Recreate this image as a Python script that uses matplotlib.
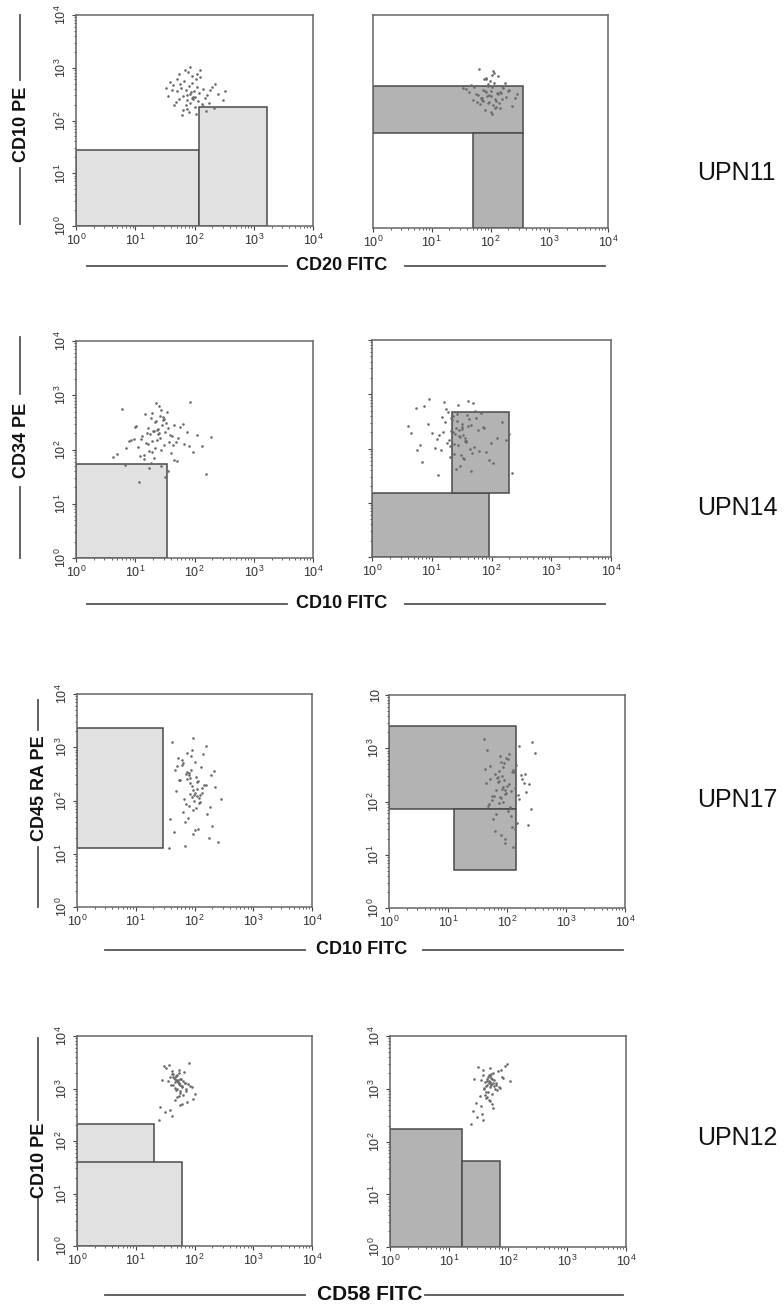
import matplotlib
matplotlib.use('Agg')
import matplotlib.pyplot as plt
import numpy as np
from matplotlib.lines import Line2D
from matplotlib.ticker import NullFormatter

plt.rcParams['font.family'] = ['Liberation Sans', 'DejaVu Sans']
plt.rcParams['mathtext.fontset'] = 'custom'
plt.rcParams['mathtext.rm'] = 'Liberation Sans'
plt.rcParams['mathtext.it'] = 'Liberation Sans:italic'
plt.rcParams['mathtext.bf'] = 'Liberation Sans:bold'

# ---- data -------------------------------------------------------------
patients = ['UPN11', 'UPN14', 'UPN17', 'UPN12']
x_labels = ['CD20 FITC', 'CD10 FITC', 'CD10 FITC', 'CD58 FITC']
y_labels = ['CD10 PE', 'CD34 PE', 'CD45 RA PE', 'CD10 PE']

decades = [1, 10, 100, 1000, 10000]
decade_labels = ['$10^{0}$', '$10^{1}$', '$10^{2}$', '$10^{3}$', '$10^{4}$']

# gates: (x0, x1, y0, y1) in fluorescence units
gates_upn11_a = [(1, 120, 1, 28), (120, 1660, 1, 180)]
gates_upn11_b = [(1, 357, 60, 465), (50, 357, 1, 60)]
gates_upn14_a = [(1, 34, 1, 54)]
gates_upn14_b = [(1, 91, 1, 15), (22, 195, 15, 470)]
gates_upn17_a = [(1, 29, 13, 2300)]
gates_upn17_b = [(1, 141, 72, 2600), (12.6, 141, 5.2, 72)]
gates_upn12_a = [(1, 20.5, 38, 210), (1, 61, 1, 40)]
gates_upn12_b = [(1, 16.6, 1, 173), (16.6, 73, 1, 43)]

# events, log10 of fluorescence
upn11_a_x = [1.92, 1.85, 2.01, 1.78, 1.96, 2.08, 1.88, 1.70, 2.15, 1.93, 1.81, 2.03, 1.99, 1.74, 2.21,
             1.90, 1.86, 2.06, 1.95, 1.62, 2.30, 1.83, 2.12, 1.97, 1.76, 2.00, 1.89, 2.18, 1.68, 1.94,
             2.09, 1.80, 2.25, 1.87, 1.58, 2.04, 1.91, 2.40, 1.73, 1.98, 2.14, 1.84, 1.55, 2.02, 2.35,
             1.66, 1.93, 2.27, 1.79, 2.10, 1.52, 2.48, 1.88, 2.05, 1.71, 2.19, 1.96, 1.64, 2.33, 2.52]
upn11_a_y = [2.50, 2.58, 2.44, 2.62, 2.71, 2.52, 2.39, 2.55, 2.60, 2.33, 2.47, 2.78, 2.56, 2.41, 2.49,
             2.66, 2.29, 2.37, 2.85, 2.58, 2.63, 2.74, 2.31, 2.45, 2.69, 2.25, 2.92, 2.43, 2.36, 2.54,
             2.82, 2.20, 2.34, 2.48, 2.73, 2.64, 2.16, 2.51, 2.88, 2.40, 2.27, 2.95, 2.46, 2.12, 2.70,
             2.30, 3.02, 2.57, 2.10, 2.96, 2.61, 2.38, 2.22, 2.89, 2.78, 2.18, 2.42, 2.68, 2.24, 2.55]
upn11_b_x = [2.00, 1.93, 2.07, 1.88, 2.12, 1.97, 2.03, 1.84, 2.18, 1.95, 2.09, 1.90, 2.05, 1.79, 2.22,
             1.99, 1.86, 2.14, 2.01, 1.75, 2.27, 1.92, 2.10, 1.96, 1.70, 2.06, 2.16, 1.82, 2.02, 1.94,
             2.31, 1.77, 2.08, 1.89, 2.20, 1.64, 2.04, 1.98, 2.36, 1.72, 1.91, 2.13, 1.85, 2.25, 1.58,
             2.00, 2.11, 1.81, 2.41, 1.95, 1.67, 2.17, 2.06, 1.87, 2.29, 1.53, 2.03, 1.93, 2.19, 2.45]
upn11_b_y = [2.48, 2.55, 2.42, 2.60, 2.51, 2.36, 2.64, 2.45, 2.53, 2.70, 2.39, 2.57, 2.31, 2.49, 2.62,
             2.76, 2.44, 2.34, 2.58, 2.52, 2.46, 2.82, 2.28, 2.67, 2.40, 2.73, 2.55, 2.33, 2.88, 2.47,
             2.59, 2.37, 2.25, 2.79, 2.43, 2.56, 2.94, 2.50, 2.30, 2.65, 2.21, 2.85, 2.41, 2.72, 2.61,
             2.18, 2.54, 2.98, 2.44, 2.35, 2.69, 2.26, 2.91, 2.38, 2.57, 2.63, 2.15, 2.80, 2.66, 2.52]
upn14_a_x = [1.37, 1.25, 1.48, 1.30, 1.42, 1.18, 1.55, 1.33, 1.40, 1.10, 1.62, 1.28, 1.45, 1.21, 1.50,
             1.35, 1.05, 1.68, 1.39, 1.15, 1.58, 1.27, 1.44, 0.98, 1.75, 1.32, 1.52, 1.12, 1.41, 1.23,
             1.83, 1.36, 0.90, 1.65, 1.47, 1.19, 1.29, 1.60, 1.02, 1.90, 1.38, 1.26, 1.53, 0.85, 1.72,
             1.34, 1.08, 1.46, 1.97, 1.22, 1.57, 0.78, 1.43, 1.31, 1.80, 1.14, 1.63, 1.40, 0.70, 2.05,
             1.24, 1.49, 1.00, 1.70, 1.35, 2.12, 0.93, 1.56, 1.17, 1.87, 0.62, 1.44, 2.20, 1.28, 1.66,
             0.82, 1.92, 1.51, 2.28, 1.06]
upn14_a_y = [2.17, 2.28, 2.08, 2.35, 2.22, 2.12, 2.40, 2.02, 2.30, 2.19, 2.25, 1.95, 2.45, 2.10, 2.33,
             2.52, 2.05, 2.14, 2.38, 1.90, 2.27, 2.58, 2.00, 2.20, 2.42, 1.85, 2.48, 2.24, 2.62, 1.98,
             2.11, 2.36, 2.16, 1.80, 2.55, 2.31, 2.67, 1.93, 2.44, 2.07, 2.29, 1.75, 2.70, 2.03, 2.21,
             2.50, 1.88, 2.60, 1.96, 2.39, 2.13, 2.75, 1.70, 2.34, 2.47, 1.82, 2.09, 2.80, 1.92, 2.26,
             1.65, 2.57, 2.41, 1.78, 2.85, 2.06, 2.18, 1.60, 2.65, 2.32, 1.87, 2.72, 1.55, 2.15, 2.46,
             1.72, 2.88, 1.50, 2.23, 1.40]
upn14_b_x = [1.47, 1.36, 1.58, 1.41, 1.52, 1.29, 1.65, 1.44, 1.33, 1.55, 1.22, 1.71, 1.39, 1.50, 1.26,
             1.62, 1.46, 1.15, 1.77, 1.35, 1.56, 1.19, 1.68, 1.43, 1.08, 1.82, 1.31, 1.60, 1.49, 1.00,
             1.74, 1.38, 1.24, 1.88, 1.53, 0.94, 1.64, 1.42, 1.12, 1.95, 1.34, 1.57, 0.87, 1.79, 1.45,
             1.27, 2.02, 1.51, 0.80, 1.69, 1.37, 1.17, 2.10, 1.48, 0.73, 1.85, 1.30, 1.61, 1.05, 2.17,
             1.40, 0.66, 1.73, 1.54, 0.96, 2.24, 1.32, 1.66, 0.60, 1.91, 1.44, 1.10, 2.30, 1.59, 0.84,
             1.99, 1.21, 2.35, 1.50, 0.76]
upn14_b_y = [2.21, 2.30, 2.12, 2.38, 2.25, 2.16, 2.44, 2.06, 2.33, 2.19, 2.48, 2.02, 2.27, 2.40, 2.10,
             2.54, 2.23, 1.97, 2.35, 2.60, 2.14, 2.31, 1.92, 2.50, 2.18, 2.66, 2.04, 2.42, 1.88, 2.28,
             2.57, 2.09, 2.72, 2.37, 1.83, 2.46, 2.00, 2.63, 2.24, 1.78, 2.53, 2.13, 2.78, 1.95, 2.34,
             2.68, 1.73, 2.45, 2.07, 2.83, 1.90, 2.58, 2.20, 1.68, 2.75, 2.39, 1.85, 2.88, 2.01, 2.49,
             1.63, 2.29, 2.70, 1.80, 2.92, 2.15, 2.56, 1.58, 2.41, 1.93, 2.81, 1.52, 2.26, 2.62, 1.75,
             2.11, 2.86, 1.55, 2.36, 1.98]
upn17_a_x = [1.98, 1.92, 2.04, 1.88, 2.01, 1.95, 2.09, 1.85, 1.99, 2.06, 1.90, 2.13, 1.94, 1.82, 2.02,
             1.97, 2.17, 1.79, 1.93, 2.08, 1.87, 2.00, 2.22, 1.76, 1.96, 2.11, 1.89, 2.04, 1.72, 2.26,
             1.91, 1.99, 2.15, 1.84, 2.05, 1.69, 1.95, 2.30, 1.81, 2.10, 1.93, 2.01, 1.66, 2.19, 1.86,
             2.35, 1.97, 1.78, 2.07, 1.62, 2.24, 1.90, 2.03, 1.74, 2.40, 1.88, 2.12, 1.59, 1.98, 2.28,
             1.83, 2.45, 1.70, 2.06, 1.94, 1.57, 2.20, 1.80, 2.33, 1.65]
upn17_a_y = [2.20, 2.32, 2.08, 2.41, 2.15, 2.27, 1.98, 2.50, 2.11, 2.36, 1.90, 2.24, 2.58, 2.03, 2.45,
             1.82, 2.30, 2.66, 2.13, 1.95, 2.54, 2.72, 1.75, 2.38, 2.06, 2.62, 1.68, 2.22, 2.80, 1.88,
             2.47, 2.00, 2.87, 1.60, 2.34, 2.18, 2.95, 1.52, 2.70, 2.10, 2.43, 1.44, 2.58, 3.02, 1.93,
             2.26, 1.37, 2.76, 2.05, 3.10, 1.30, 2.52, 1.85, 2.39, 1.22, 2.90, 2.14, 1.65, 3.18, 2.48,
             1.15, 2.02, 2.64, 1.47, 2.83, 1.10, 2.29, 1.78, 2.56, 1.40]
upn17_b_x = [1.93, 1.87, 1.99, 1.83, 1.96, 2.03, 1.90, 1.80, 2.07, 1.95, 1.86, 2.00, 2.11, 1.78, 1.92,
             2.05, 1.84, 2.15, 1.97, 1.75, 2.09, 1.89, 2.01, 1.72, 2.19, 1.94, 1.81, 2.13, 1.98, 1.69,
             2.24, 1.88, 2.04, 1.77, 2.28, 1.91, 1.66, 2.17, 1.95, 2.33, 1.85, 2.08, 1.63, 2.21, 1.93,
             2.38, 1.79, 2.02, 1.74, 2.43, 1.90, 2.12, 1.68, 2.26, 1.97, 2.48, 1.82, 2.06, 1.61, 2.31,
             1.96, 2.20, 1.71, 2.36, 1.88, 2.10, 1.65, 2.41, 1.86, 2.14]
upn17_b_y = [2.27, 2.38, 2.16, 2.45, 2.21, 2.33, 2.06, 2.52, 2.19, 2.40, 1.98, 2.30, 2.60, 2.10, 2.48,
             1.90, 2.36, 2.68, 2.14, 2.02, 2.56, 2.75, 1.83, 2.42, 2.12, 2.64, 1.76, 2.25, 2.82, 1.95,
             2.50, 2.08, 2.89, 1.68, 2.35, 2.24, 2.96, 1.60, 2.72, 2.17, 2.46, 1.52, 2.61, 3.04, 1.99,
             2.32, 1.45, 2.79, 2.11, 3.12, 1.38, 2.55, 1.92, 2.43, 1.30, 2.92, 2.22, 1.73, 3.18, 2.51,
             1.22, 2.05, 2.67, 1.55, 2.86, 1.15, 2.34, 1.86, 2.58, 1.48]
upn12_a_x = [1.72, 1.68, 1.76, 1.65, 1.74, 1.70, 1.79, 1.63, 1.73, 1.77, 1.67, 1.81, 1.71, 1.60, 1.75,
             1.69, 1.84, 1.64, 1.78, 1.72, 1.58, 1.86, 1.66, 1.74, 1.70, 1.89, 1.61, 1.76, 1.68, 1.92,
             1.55, 1.73, 1.80, 1.66, 1.95, 1.52, 1.71, 1.83, 1.62, 1.98, 1.48, 1.75, 1.69, 1.87, 1.57,
             2.01, 1.45, 1.78, 1.64, 1.90, 1.42, 1.73, 1.82, 1.59, 1.67, 1.50, 1.85, 1.61, 1.76, 1.40]
upn12_a_y = [3.12, 3.17, 3.07, 3.20, 3.10, 3.15, 3.04, 3.22, 3.09, 3.18, 3.01, 3.14, 3.25, 3.06, 3.19,
             2.98, 3.11, 3.28, 3.03, 3.16, 3.21, 2.95, 3.13, 3.30, 3.00, 3.08, 3.33, 2.92, 3.24, 3.05,
             3.14, 3.36, 2.88, 3.19, 3.02, 3.39, 2.84, 3.10, 3.27, 2.80, 3.42, 2.96, 3.23, 2.75, 3.45,
             2.90, 3.16, 2.70, 3.07, 3.48, 2.65, 2.86, 3.31, 2.60, 2.78, 2.55, 2.99, 2.48, 2.68, 2.40]
upn12_b_x = [1.69, 1.65, 1.73, 1.62, 1.71, 1.67, 1.76, 1.60, 1.70, 1.74, 1.64, 1.78, 1.68, 1.57, 1.72,
             1.66, 1.81, 1.61, 1.75, 1.69, 1.55, 1.83, 1.63, 1.71, 1.67, 1.86, 1.58, 1.73, 1.65, 1.89,
             1.52, 1.70, 1.77, 1.63, 1.92, 1.49, 1.68, 1.80, 1.59, 1.95, 1.46, 1.72, 1.66, 1.84, 1.54,
             1.99, 1.43, 1.75, 1.61, 1.88, 1.40, 1.70, 1.79, 1.56, 1.64, 1.47, 2.03, 1.58, 1.73, 1.38]
upn12_b_y = [3.13, 3.08, 3.18, 3.05, 3.21, 3.11, 3.16, 3.02, 3.24, 3.10, 3.19, 3.00, 3.14, 3.27, 3.07,
             3.22, 2.97, 3.12, 3.30, 3.04, 3.17, 3.33, 2.94, 3.09, 3.26, 3.01, 3.36, 2.90, 3.15, 3.23,
             2.86, 3.39, 3.06, 2.82, 3.20, 3.42, 2.78, 3.11, 2.99, 3.44, 2.73, 3.28, 2.93, 3.03, 2.68,
             3.46, 3.18, 2.63, 2.89, 3.35, 2.58, 2.76, 3.08, 2.52, 2.85, 2.46, 3.14, 2.40, 2.71, 2.33]

# ---- layout (pixels) --------------------------------------------------
W, H = 784, 1306
fig = plt.figure(figsize=(W / 100, H / 100), dpi=100)


def box(x0, y0, x1, y1):
    return [x0 / W, 1 - y1 / H, (x1 - x0) / W, (y1 - y0) / H]


def seg(xs, ys):
    fig.add_artist(Line2D([x / W for x in xs], [1 - y / H for y in ys],
                          color='#555555', lw=1.3))


def dot_plot(ax, ex, ey, gates, face, yticks='labels', top_label=None):
    ax.set_xscale('log')
    ax.set_yscale('log')
    for x0, x1, y0, y1 in gates:
        ax.fill([x0, x1, x1, x0], [y0, y0, y1, y1], fc=face, ec='#4a4a4a',
                lw=1.1, zorder=1)
    ax.scatter(10 ** np.array(ex), 10 ** np.array(ey), s=3.5, c='#6a6a6a',
               lw=0, zorder=2)
    ax.set_xlim(1, 1e4)
    ax.set_ylim(1, 1e4)
    ax.set_xticks(decades)
    ax.set_xticklabels(decade_labels)
    ax.set_yticks(decades)
    lab = list(decade_labels)
    if top_label is not None:
        lab[-1] = top_label
    ax.set_yticklabels(lab, rotation=90, va='center')
    ax.xaxis.set_minor_formatter(NullFormatter())
    ax.yaxis.set_minor_formatter(NullFormatter())
    ax.tick_params(which='major', direction='out', length=3, width=0.8,
                   color='#444444', labelsize=9, labelcolor='#333333', pad=2)
    ax.tick_params(which='minor', direction='out', length=1.6, width=0.6,
                   color='#444444')
    if yticks == 'none':
        ax.tick_params(axis='y', which='both', left=False, labelleft=False)
    elif yticks == 'ticks':
        ax.tick_params(axis='y', which='both', labelleft=False)
    for s in ax.spines.values():
        s.set_color('#666666')
        s.set_linewidth(1.1)


light = '#e1e1e1'
dark = '#b3b3b3'

rows = [
    (box(76, 15, 313, 226), box(373, 15, 608, 228),
     upn11_a_x, upn11_a_y, gates_upn11_a, upn11_b_x, upn11_b_y, gates_upn11_b, 'none', None),
    (box(76, 341, 313, 558), box(372, 340, 611, 557),
     upn14_a_x, upn14_a_y, gates_upn14_a, upn14_b_x, upn14_b_y, gates_upn14_b, 'ticks', None),
    (box(77, 694, 312, 907), box(389, 695, 625, 908),
     upn17_a_x, upn17_a_y, gates_upn17_a, upn17_b_x, upn17_b_y, gates_upn17_b, 'labels', '10'),
    (box(77, 1036, 312, 1246), box(390, 1036, 626, 1247),
     upn12_a_x, upn12_a_y, gates_upn12_a, upn12_b_x, upn12_b_y, gates_upn12_b, 'labels', None),
]

for r in rows:
    bl, br, ax_, ay_, ga, bx_, by_, gb, rt, top = r
    dot_plot(fig.add_axes(bl), ax_, ay_, ga, light)
    dot_plot(fig.add_axes(br), bx_, by_, gb, dark, yticks=rt, top_label=top)

# axis titles with their flanking rules
ytitle_pos = [(22, 124, 20, (15, 80), (168, 224)),
              (22, 440, 20, (337, 394), (487, 558)),
              (40, 788, 38, (700, 730), (847, 907)),
              (40, 1160, 38, (1038, 1120), (1198, 1260))]
xtitle_pos = [(342, 266, (87, 287), (405, 605), 13),
              (342, 604, (87, 287), (405, 605), 13),
              (362, 950, (105, 305), (423, 623), 13),
              (370, 1295, (105, 305), (425, 623), 15)]
upn_y = [173, 508, 800, 1138]

for i in range(4):
    tx, ty, lx, l1, l2 = ytitle_pos[i]
    fig.text(tx / W, 1 - ty / H, y_labels[i], rotation=90, ha='center', va='center',
             fontsize=13, fontweight='bold', color='#111111')
    seg([lx, lx], l1)
    seg([lx, lx], l2)
    cx, cy, h1, h2, fs = xtitle_pos[i]
    fig.text(cx / W, 1 - cy / H, x_labels[i], ha='center', va='center',
             fontsize=fs, fontweight='bold', color='#111111')
    seg(h1, [cy, cy])
    seg(h2, [cy, cy])
    fig.text(697 / W, 1 - upn_y[i] / H, patients[i], ha='left', va='center',
             fontsize=18, color='#111111')

fig.savefig('out.png', dpi=100)
